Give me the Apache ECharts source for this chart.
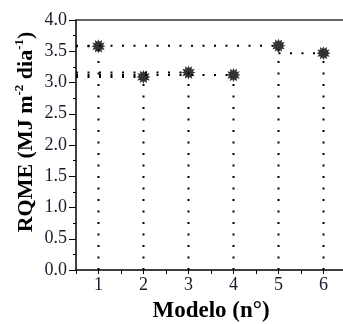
<!DOCTYPE html>
<html><head><meta charset="utf-8">
<script src="https://cdn.jsdelivr.net/npm/echarts@6/dist/echarts.min.js"></script>
<style>html,body{margin:0;padding:0;background:#fff}#c{width:343px;height:324px}</style>
</head><body><div id="c"></div>
<script>
var models = [1, 2, 3, 4, 5, 6];
var rqme = [3.58, 3.09, 3.16, 3.12, 3.59, 3.47];
var yTicks = ['0.0','0.5','1.0','1.5','2.0','2.5','3.0','3.5','4.0'];
// horizontal guide segments start (x value), end at the point
var hStart = [0.5, 0.5, 0.5, 0.5, 0.5, 5];

var chart = echarts.init(document.getElementById('c'));
var font = 'Liberation Serif';
var series = [];
var dotted = {color:'#000', width:2, type:[2,9.5], cap:'butt'};
models.forEach(function(m, i){
  series.push({type:'line', data:[[m,0],[m,rqme[i]]], symbol:'none', lineStyle:dotted, silent:true, z:1});
  series.push({type:'line', data:[[hStart[i],rqme[i]],[m,rqme[i]]], symbol:'none', lineStyle:dotted, silent:true, z:1});
});
series.push({type:'scatter', data:models.map(function(m,i){return [m, rqme[i]];}),
  symbol:'path://M50,0 L58,18 L76,6 L72,28 L94,24 L82,42 L100,50 L82,58 L94,76 L72,72 L76,94 L58,82 L50,100 L42,82 L24,94 L28,72 L6,76 L18,58 L0,50 L18,42 L6,24 L28,28 L24,6 L42,18 Z',
  symbolSize:14, itemStyle:{color:'#000'}, z:5});

chart.setOption({
  animation:false,
  grid:{left:76, top:20, bottom:54, right:-3, outerBoundsMode:'none', containLabel:false},
  xAxis:[{type:'value', min:0.5, max:6.5, interval:0.5, position:'bottom',
    axisLine:{lineStyle:{color:'#000', width:1.5}},
    axisTick:{show:true, length:4, inside:false, lineStyle:{color:'#000'}},
    splitLine:{show:false},
    axisLabel:{fontFamily:font, fontSize:18, color:'#1a1a2a', margin:6,
      formatter:function(v){ var i = models.indexOf(v); return i>=0 ? String(models[i]) : ''; }},
    name:'Modelo (n°)', nameLocation:'middle', nameGap:30,
    nameTextStyle:{fontFamily:font, fontSize:23, fontWeight:'bold', color:'#000'}
  },{type:'value', min:0.5, max:6.5, position:'top', axisLine:{show:true, lineStyle:{color:'#333', width:1.5}},
    axisTick:{show:false}, axisLabel:{show:false}, splitLine:{show:false}}],
  yAxis:{type:'value', min:0, max:4, interval:0.5,
    axisLine:{show:true, lineStyle:{color:'#000', width:1.5}},
    axisTick:{show:true, length:7, lineStyle:{color:'#000'}},
    minorTick:{show:true, splitNumber:2, length:3, lineStyle:{color:'#000'}},
    splitLine:{show:false},
    axisLabel:{fontFamily:font, fontSize:18, color:'#1a1a2a', margin:9,
      formatter:function(v){ return yTicks[Math.round(v*2)]; }}
  },
  graphic:[{type:'text', x:26, y:132, rotation:Math.PI/2, style:{
    text:'{b|RQME (MJ m}{s|-2}{b| dia}{s|-1}{b|)}', align:'center', verticalAlign:'middle',
    rich:{b:{fontFamily:font, fontSize:22, fontWeight:'bold', fill:'#000'},
          s:{fontFamily:font, fontSize:13, fontWeight:'bold', fill:'#000', verticalAlign:'top', padding:[0,0,12,0]}}}}],
  series:series
});
</script></body></html>
